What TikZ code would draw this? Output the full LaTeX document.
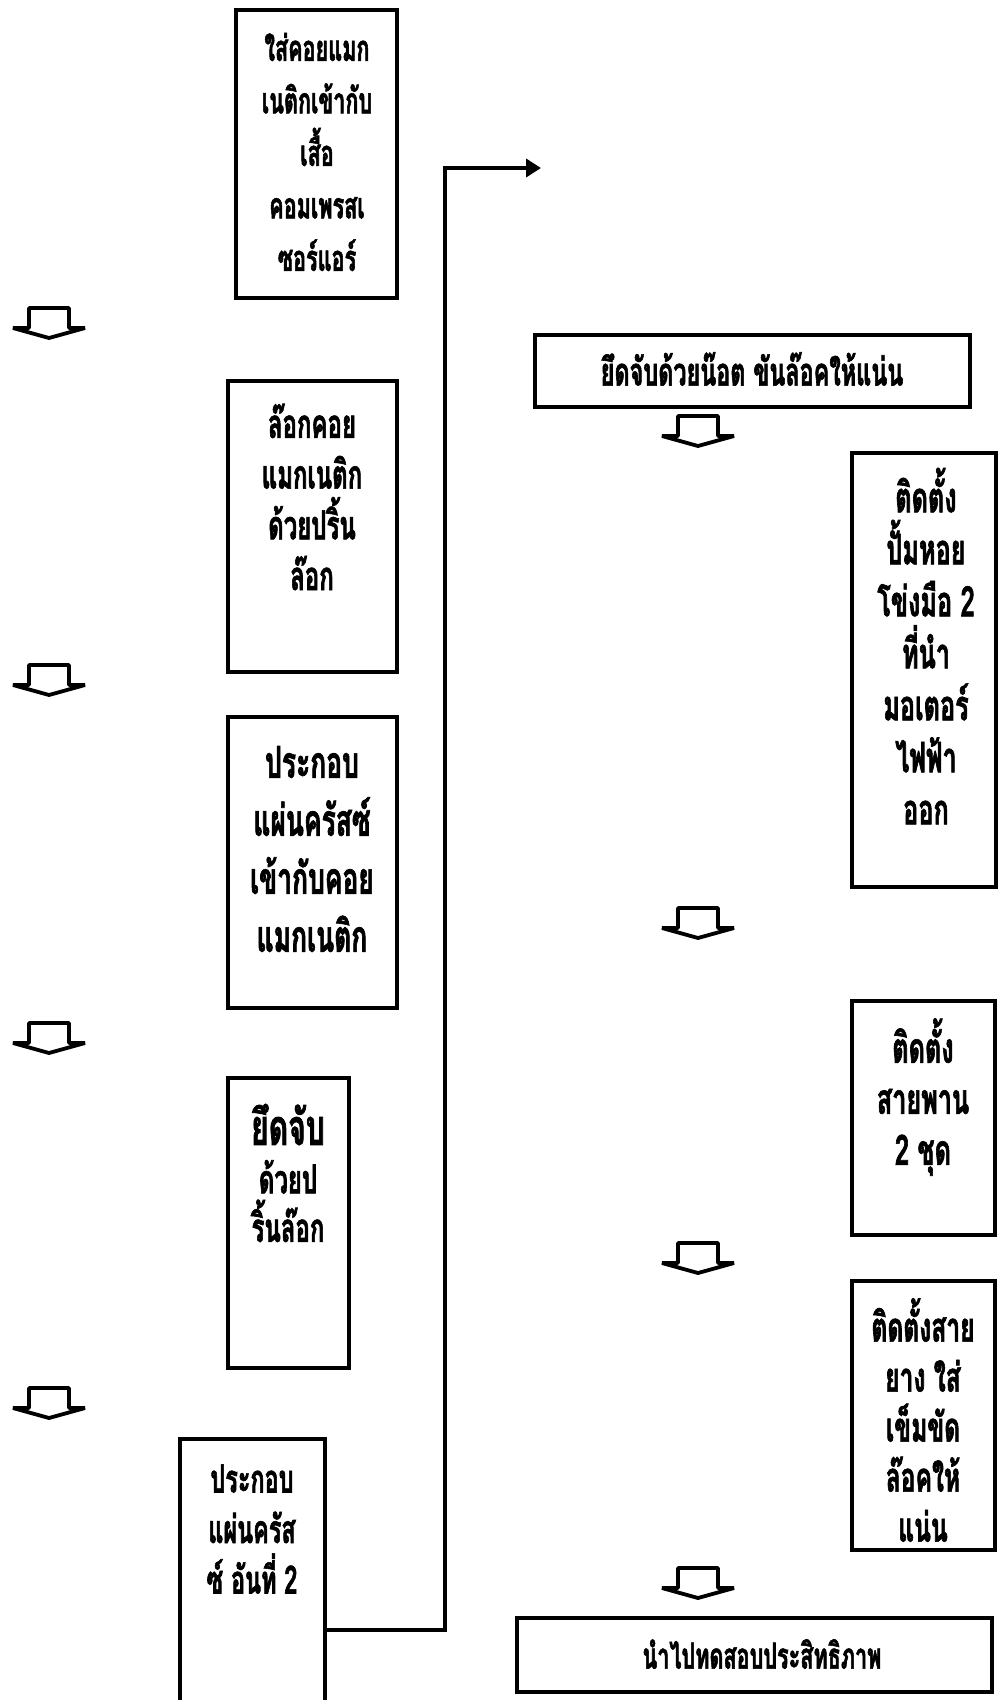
\documentclass[tikz,border=0pt]{standalone}
\usepackage{fontspec}
\newfontfamily\thaifont[Script=Thai,FakeStretch=0.6,FakeBold=1.5]{Loma}
\usetikzlibrary{arrows.meta}
\tikzset{
  box/.style={draw, line width=3.5pt, rectangle, inner sep=0pt},
  txt/.style={align=center, inner sep=0pt},
  arrowline/.style={line width=3.8pt, line join=bevel},
  conn/.style={line width=4pt, -{Triangle[length=15pt,width=18pt]}},
  hollowdown/.pic={\draw[arrowline] (-36,20) -- (-20,20) -- (-20,0) -- (20,0) -- (20,20) -- (36,20) -- (0,30) -- cycle;}
}
\newcommand{\thfs}[2]{\thaifont\bfseries\fontsize{#1}{#2}\selectfont}
\begin{document}
\begin{tikzpicture}[x=1pt,y=-1pt]
\useasboundingbox (0,0) rectangle (998,1700);
% left column boxes
\node[box, minimum width=161pt, minimum height=288pt] (b1) at (316.5,154) {};
\node[box, minimum width=169pt, minimum height=291pt] (b2) at (312.5,526.5) {};
\node[box, minimum width=169pt, minimum height=291pt] (b3) at (312.5,862.5) {};
\node[box, minimum width=121pt, minimum height=290pt] (b4) at (288.5,1223) {};
\node[box, minimum width=145pt, minimum height=382pt] (b5) at (252.5,1630) {};
% right column boxes
\node[box, minimum width=435pt, minimum height=72pt] (b6) at (752.5,371) {};
\node[box, minimum width=144pt, minimum height=434pt] (b7) at (924,670) {};
\node[box, minimum width=143pt, minimum height=234pt] (b8) at (923.5,1118) {};
\node[box, minimum width=143pt, minimum height=269pt] (b9) at (923.5,1415.5) {};
\node[box, minimum width=475pt, minimum height=74pt] (b10) at (754.5,1655) {};
% texts
\node[txt, font=\thfs{36}{52.5}] (t1) at (317,152) {ใส่คอยแมก\\เนติกเข้ากับ\\เสื้อ\\คอมเพรสเ\\ซอร์แอร์};
\node[txt, font=\thfs{40}{50.7}] (t2) at (312,497) {ล๊อกคอย\\แมกเนติก\\ด้วยปริ้น\\ล๊อก};
\node[txt, font=\thfs{44}{58}] (t3) at (312,849) {ประกอบ\\แผ่นครัสซ์\\เข้ากับคอย\\แมกเนติก};
\node[txt, font=\thfs{40}{48.5}] (t4) at (288,1173) {{\fontsize{50}{48.5}\selectfont ยึดจับ}\\ด้วยป\\ริ้นล๊อก};
\node[txt, font=\thfs{39}{50.5}] (t5) at (252,1529) {ประกอบ\\แผ่นครัส\\ซ์ อันที่ 2};
\node[txt, font=\thfs{39}{40}] (t6) at (752,369) {ยึดจับด้วยน๊อต ขันล๊อคให้แน่น};
\node[txt, font=\thfs{42}{52}] (t7) at (926,646) {ติดตั้ง\\ปั้มหอย\\โข่งมือ 2\\ที่นำ\\มอเตอร์\\ไฟฟ้า\\ออก};
\node[txt, font=\thfs{42}{51}] (t8) at (923,1097) {ติดตั้ง\\สายพาน\\2 ชุด};
\node[txt, font=\thfs{41}{50}] (t9) at (923,1420) {ติดตั้งสาย\\ยาง ใส่\\เข็มขัด\\ล๊อคให้\\แน่น};
\node[txt, font=\thfs{36}{40}] (t10) at (762,1654) {นำไปทดสอบประสิทธิภาพ};
% hollow arrows
\pic at (49,308) {hollowdown};
\pic at (49,665) {hollowdown};
\pic at (49,1023) {hollowdown};
\pic at (49,1388) {hollowdown};
\pic at (698,416) {hollowdown};
\pic at (698,908) {hollowdown};
\pic at (698,1243) {hollowdown};
\pic at (698,1568) {hollowdown};
% connector
\coordinate (cturn) at (445,168);
\coordinate (cend) at (541,168);
\draw[conn] (b5.east) -| (cturn) -- (cend);
\end{tikzpicture}
\end{document}
